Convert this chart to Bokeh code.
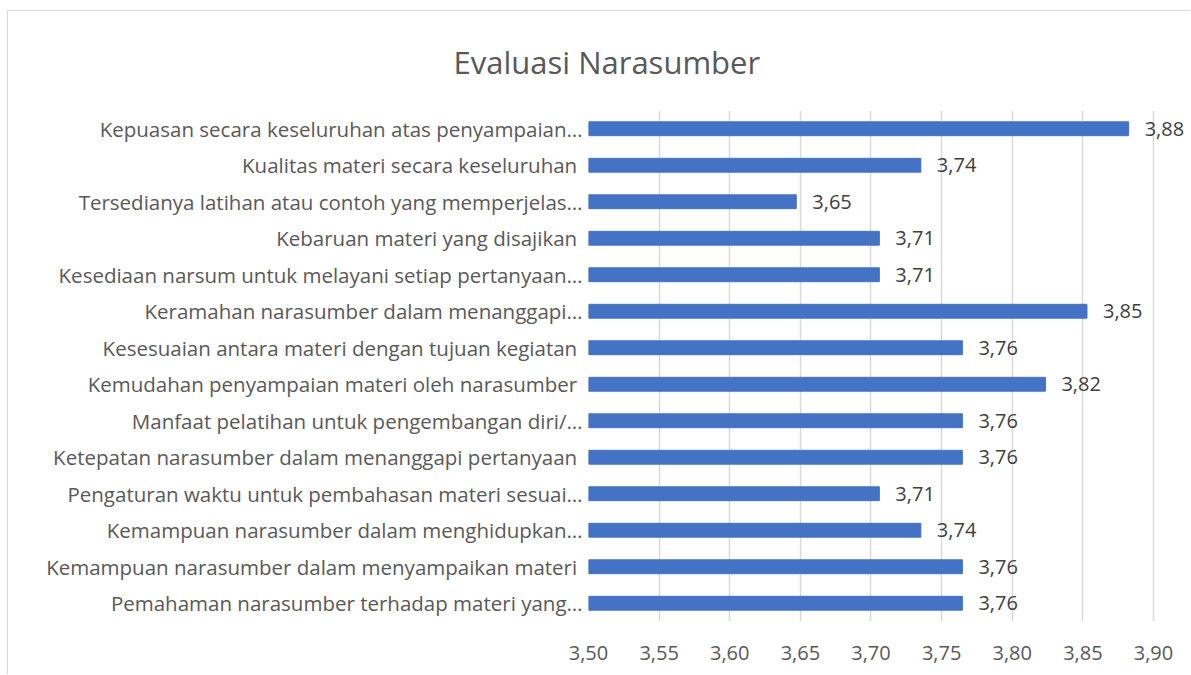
from bokeh.plotting import figure
from bokeh.models import FactorRange, Range1d, FixedTicker, CustomJSTickFormatter, ColumnDataSource
from bokeh.core.properties import value
from bokeh.embed import file_html
from bokeh.resources import INLINE

title_text = "Evaluasi Narasumber"

categories = [
    "Kepuasan secara keseluruhan atas penyampaian…",
    "Kualitas materi secara keseluruhan ",
    "Tersedianya latihan atau contoh yang memperjelas…",
    "Kebaruan materi yang disajikan ",
    "Kesediaan narsum untuk melayani setiap pertanyaan…",
    "Keramahan narasumber dalam menanggapi…",
    "Kesesuaian antara materi dengan tujuan kegiatan ",
    "Kemudahan penyampaian materi oleh narasumber ",
    "Manfaat pelatihan untuk pengembangan diri/…",
    "Ketepatan narasumber dalam menanggapi pertanyaan ",
    "Pengaturan waktu untuk pembahasan materi sesuai…",
    "Kemampuan narasumber dalam menghidupkan…",
    "Kemampuan narasumber dalam menyampaikan materi ",
    "Pemahaman narasumber terhadap materi yang…",
]
scores = [3.8824, 3.7353, 3.6471, 3.7059, 3.7059, 3.8529, 3.7647,
          3.8235, 3.7647, 3.7647, 3.7059, 3.7353, 3.7647, 3.7647]
x_ticks = [3.50, 3.55, 3.60, 3.65, 3.70, 3.75, 3.80, 3.85, 3.90]
x_view_end = 3.9262  # a bit of room right of the last gridline for value labels

labels = [f"{v:.2f}".replace(".", ",") for v in scores]
src = ColumnDataSource(dict(cat=categories, val=scores, lab=labels))

FONT = "Open Sans"
GREY = "#595959"

p = figure(
    y_range=FactorRange(factors=list(reversed(categories))),
    x_range=Range1d(x_ticks[0], x_view_end),
    width=1182, height=663,
    frame_width=602, frame_height=511,
    min_border_left=580, min_border_right=0,
    min_border_top=99, min_border_bottom=53,
    output_backend="svg", toolbar_location=None,
    title=title_text,
)
p.margin = (10, 0, 0, 7)
p.styles = {"border-top": "1px solid #d9d9d9", "border-left": "1px solid #d9d9d9"}
p.outline_line_color = None
p.background_fill_color = "white"
p.border_fill_color = "white"

p.title.align = "left"
p.title.vertical_align = "top"
p.title.offset = -135
p.title.standoff = 52
p.title.text_font = FONT
p.title.text_font_size = "31px"
p.title.text_font_style = "normal"
p.title.text_color = GREY

p.hbar(y="cat", right="val", left=0, height=0.38, color="#4472C4", source=src)
p.text(x="val", y="cat", text="lab", source=src, x_offset=16,
       text_baseline="middle", text_align="left",
       text_font=value(FONT), text_font_size="20px", text_color="#404040")

# axes
p.xaxis.ticker = FixedTicker(ticks=x_ticks)
p.xaxis.formatter = CustomJSTickFormatter(code="return tick.toFixed(2).replace('.', ',');")
p.xaxis.axis_line_color = None
p.xaxis.major_tick_line_color = None
p.xaxis.minor_tick_line_color = None
p.xaxis.major_tick_out = 0
p.xaxis.major_label_standoff = 24
p.xaxis.major_label_text_font = FONT
p.xaxis.major_label_text_font_size = "20px"
p.xaxis.major_label_text_color = GREY

p.yaxis.axis_line_color = None
p.yaxis.major_tick_line_color = None
p.yaxis.minor_tick_line_color = None
p.yaxis.major_tick_out = 0
p.yaxis.major_label_standoff = 6
p.yaxis.major_label_text_font = FONT
p.yaxis.major_label_text_font_size = "20.5px"
p.yaxis.major_label_text_color = GREY

p.xgrid.grid_line_color = "#d9d9d9"
p.xgrid.grid_line_width = 1.5
p.ygrid.grid_line_color = None

open("out.html", "w").write(file_html(p, INLINE))
